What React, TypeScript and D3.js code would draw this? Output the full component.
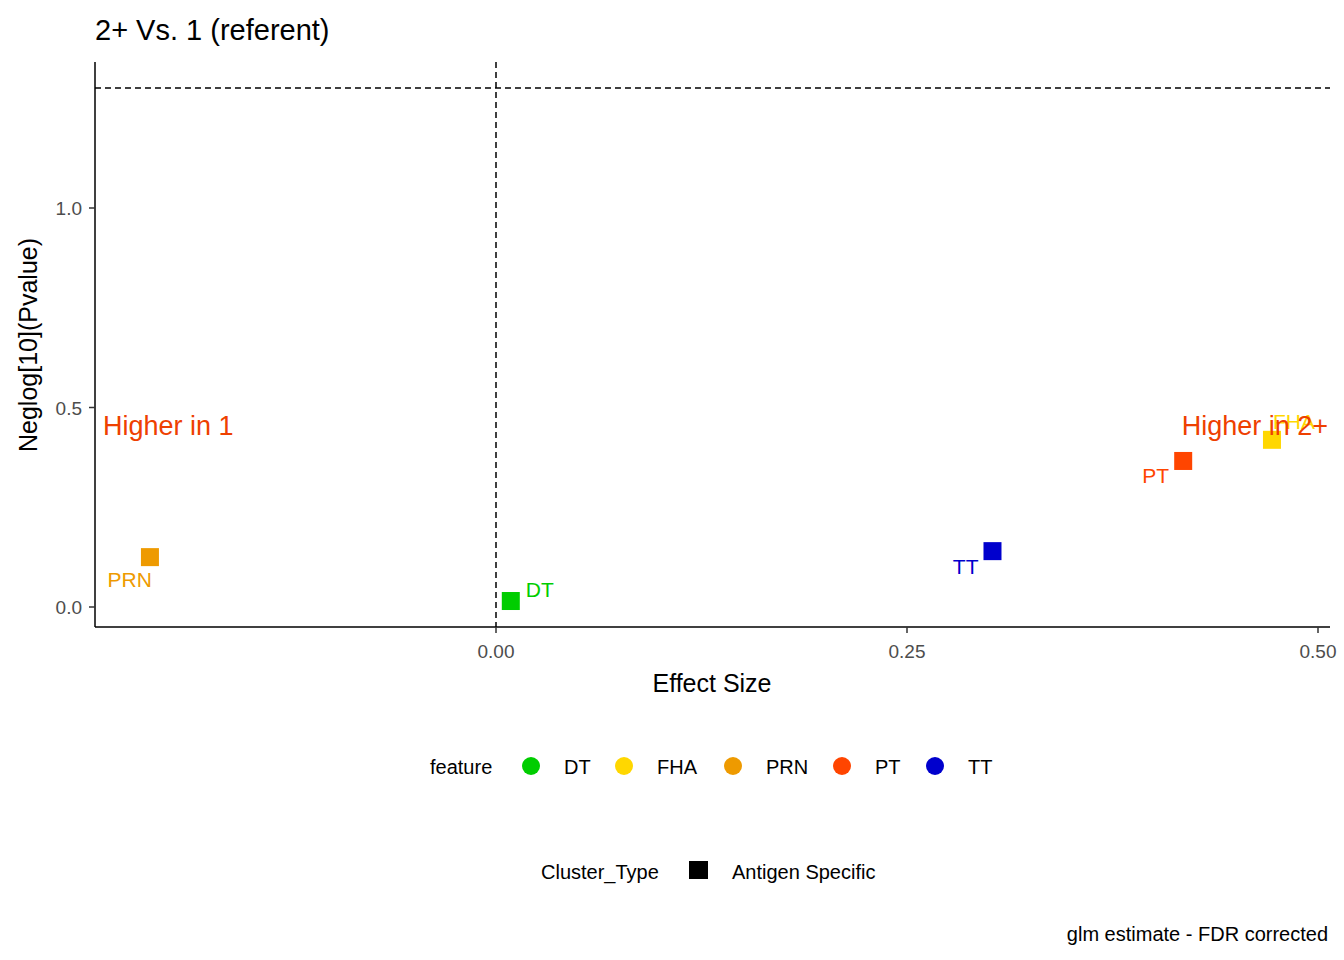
import * as d3 from "d3";

const features = ["DT", "FHA", "PRN", "PT", "TT"];
const colors = ["#00CD00", "#FFD700", "#EE9A00", "#FF4500", "#0000CD"];
const effect = [0.009, 0.472, -0.2105, 0.418, 0.302];
const neglogp = [0.015, 0.419, 0.125, 0.366, 0.14];
// label placement per point: [dx, dy] in pixels, anchor
const labelPos: [number, number, string][] = [[15, -4, "start"], [1, -11, "start"], [2, 30, "end"], [-14, 22, "end"], [-14, 23, "end"]];
const xTicks = [0, 0.25, 0.5];
const yTicks = [0, 0.5, 1.0];

export default function App() {
  const W = 1344, H = 960;
  const x = d3.scaleLinear().domain([0, 0.5]).range([496, 1318]);
  const y = d3.scaleLinear().domain([0, 1]).range([607, 208]);
  const left = 95, right = 1330, top = 62, bottom = 627;
  const font = "Liberation Sans, Arial, sans-serif";
  const legendX = [531, 624, 733, 842, 935];
  return (
    <svg width={W} height={H} style={{ position: "absolute", left: 0, top: 0, fontFamily: font }}>
      <rect width={W} height={H} fill="white" />
      <text x={95} y={40} fontSize={29}>2+ Vs. 1 (referent)</text>
      <line x1={left} x2={right} y1={y(1.301)} y2={y(1.301)} stroke="black" strokeWidth={1.5} strokeDasharray="6,4" />
      <line x1={x(0)} x2={x(0)} y1={top} y2={bottom} stroke="black" strokeWidth={1.5} strokeDasharray="6,4" />
      <line x1={left} x2={left} y1={top} y2={bottom} stroke="black" strokeWidth={1.5} />
      <line x1={left} x2={right} y1={bottom} y2={bottom} stroke="black" strokeWidth={1.5} />
      {xTicks.map(t => (
        <g key={t}>
          <line x1={x(t)} x2={x(t)} y1={bottom} y2={bottom + 6} stroke="#333" strokeWidth={1.5} />
          <text x={x(t)} y={bottom + 31} textAnchor="middle" fontSize={19} fill="#4d4d4d">{t.toFixed(2)}</text>
        </g>
      ))}
      {yTicks.map(t => (
        <g key={t}>
          <line x1={left - 6} x2={left} y1={y(t)} y2={y(t)} stroke="#333" strokeWidth={1.5} />
          <text x={left - 13} y={y(t) + 7} textAnchor="end" fontSize={19} fill="#4d4d4d">{t.toFixed(1)}</text>
        </g>
      ))}
      <text x={712} y={692} textAnchor="middle" fontSize={25}>Effect Size</text>
      <text transform={`translate(37,345) rotate(-90)`} textAnchor="middle" fontSize={25}>Neglog[10](Pvalue)</text>
      <text x={103} y={435} fontSize={27} fill="#EE4000">Higher in 1</text>
      {features.map((f, i) => {
        const px = x(effect[i]), py = y(neglogp[i]);
        const [dx, dy, anchor] = labelPos[i];
        return (
          <g key={f}>
            <rect x={px - 9} y={py - 9} width={18} height={18} fill={colors[i]} />
            <text x={px + dx} y={py + dy} textAnchor={anchor} fontSize={21} fill={colors[i]}>{f}</text>
          </g>
        );
      })}
      <text x={1328} y={435} textAnchor="end" fontSize={27} fill="#EE4000">Higher in 2+</text>
      <text x={430} y={774} fontSize={20}>feature</text>
      {features.map((f, i) => (
        <g key={f}>
          <circle cx={legendX[i]} cy={766} r={9} fill={colors[i]} />
          <text x={legendX[i] + 33} y={774} fontSize={20}>{f}</text>
        </g>
      ))}
      <text x={541} y={879} fontSize={20}>Cluster_Type</text>
      <rect x={689} y={861} width={19} height={18} fill="black" />
      <text x={732} y={879} fontSize={20}>Antigen Specific</text>
      <text x={1328} y={941} textAnchor="end" fontSize={20}>glm estimate - FDR corrected</text>
    </svg>
  );
}
